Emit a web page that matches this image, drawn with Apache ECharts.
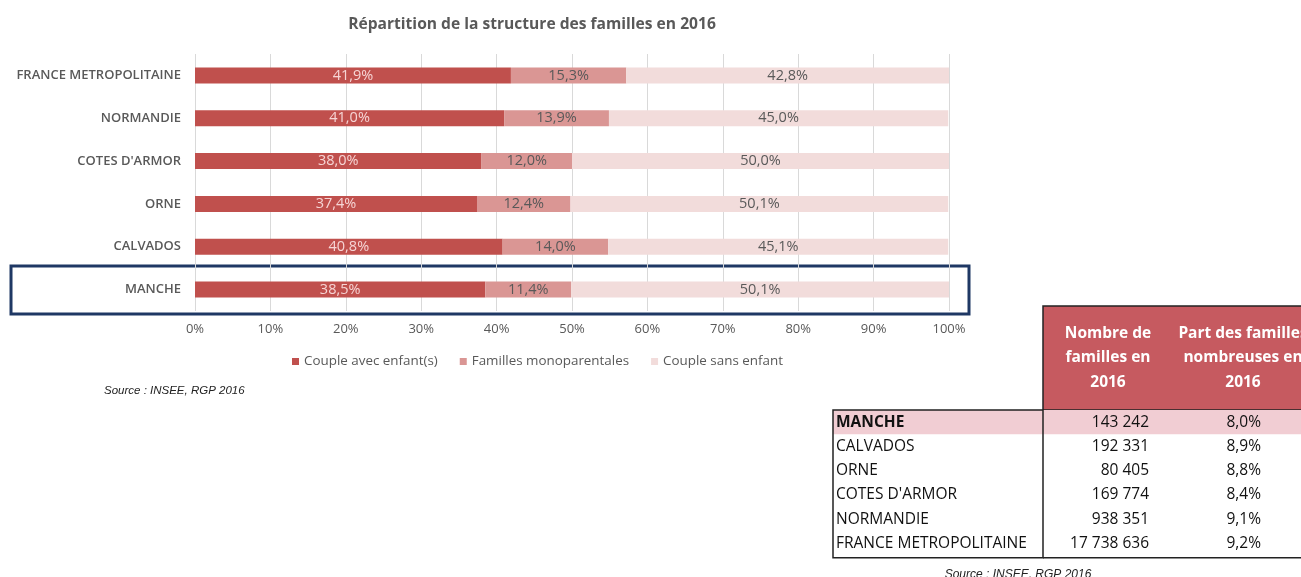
<!DOCTYPE html>
<html><head><meta charset="utf-8">
<script src="https://cdn.jsdelivr.net/npm/echarts@6/dist/echarts.min.js"></script>
<style>html,body{margin:0;padding:0;background:#fff;}#c{width:1301px;height:577px;}</style>
</head><body><div id="c"></div>
<script>
const categories = ["FRANCE METROPOLITAINE","NORMANDIE","COTES D'ARMOR","ORNE","CALVADOS","MANCHE"];
const coupleAvecEnfants = [41.9, 41.0, 38.0, 37.4, 40.8, 38.5];
const famillesMono = [15.3, 13.9, 12.0, 12.4, 14.0, 11.4];
const coupleSansEnfant = [42.8, 45.0, 50.0, 50.1, 45.1, 50.1];
const xTicks = [0,10,20,30,40,50,60,70,80,90,100];

const tableRows = ["MANCHE","CALVADOS","ORNE","COTES D'ARMOR","NORMANDIE","FRANCE METROPOLITAINE"];
const nbFamilles = ["143 242","192 331","80 405","169 774","938 351","17 738 636"];
const partNombreuses = ["8,0%","8,9%","8,8%","8,4%","9,1%","9,2%"];
const headerCol2 = "Nombre de\nfamilles en\n2016";
const headerCol3 = "Part des familles\nnombreuses en\n2016";

const font = "'Open Sans', Lato, sans-serif";
const fmt = v => v.toFixed(1).replace('.', ',') + '%';

// table graphics
const g = [];
const tx0 = 833, tx1 = 1043, tRight = 1301;
const headTop = 306, rowTop = 410, rowH = 24.3;
g.push({type:'rect', shape:{x:tx1, y:headTop, width:tRight-tx1+5, height:rowTop-headTop}, style:{fill:'#C65A60', stroke:'#222', lineWidth:1.5}});
g.push({type:'rect', shape:{x:tx0, y:rowTop, width:tRight-tx0+5, height:rowH}, style:{fill:'#F1CDD3'}});
g.push({type:'text', x:1108, y:headTop+52, style:{text:headerCol2, fill:'#fff', font:"bold 15.5px "+font, align:'center', verticalAlign:'middle', lineHeight:24.5}});
g.push({type:'text', x:1243, y:headTop+52, style:{text:headerCol3, fill:'#fff', font:"bold 15.5px "+font, align:'center', verticalAlign:'middle', lineHeight:24.5}});
tableRows.forEach((r,i)=>{
  const yc = rowTop + rowH*i + rowH/2;
  g.push({type:'text', x:tx0+3, y:yc, style:{text:r, fill:'#111', font:(i===0?'bold ':'')+"15.5px "+font, align:'left', verticalAlign:'middle'}});
  g.push({type:'text', x:1149, y:yc, style:{text:nbFamilles[i], fill:'#111', font:"15.5px "+font, align:'right', verticalAlign:'middle'}});
  g.push({type:'text', x:1261, y:yc, style:{text:partNombreuses[i], fill:'#111', font:"15.5px "+font, align:'right', verticalAlign:'middle'}});
});
const tBottom = rowTop + rowH*6 + 2;
g.push({type:'rect', shape:{x:tx0, y:rowTop, width:tx1-tx0, height:tBottom-rowTop}, style:{fill:'none', stroke:'#222', lineWidth:1.5}});
g.push({type:'line', shape:{x1:tx1, y1:tBottom, x2:tRight, y2:tBottom}, style:{stroke:'#222', lineWidth:1.5}});
g.push({type:'text', x:1018, y:575, style:{text:'Source : INSEE, RGP 2016', fill:'#222', font:"italic 12px 'Liberation Sans', Arial, sans-serif", align:'center', verticalAlign:'middle'}});
g.push({type:'text', x:104, y:391, style:{text:'Source : INSEE, RGP 2016', fill:'#222', font:"italic 11.5px 'Liberation Sans', Arial, sans-serif", align:'left', verticalAlign:'middle'}});
// highlight frame around MANCHE
g.push({type:'rect', shape:{x:11, y:266, width:958, height:48}, style:{fill:'none', stroke:'#1F3864', lineWidth:3}});

const labelDark = {show:true, position:'inside', color:'#F6D5D5', fontFamily:font, fontSize:14.5, formatter:p=>fmt(p.value)};
const labelLight = {show:true, position:'inside', color:'#595959', fontFamily:font, fontSize:14.5, formatter:p=>fmt(p.value)};

const option = {
  backgroundColor:'#fff',
  animation:false,
  title:{text:'Répartition de la structure des familles en 2016', left:527, top:12, textAlign:'center',
    textStyle:{fontFamily:font, fontSize:15.6, fontWeight:'bold', color:'#595959'}},
  legend:{top:350, left:287, itemWidth:7, itemHeight:7, itemGap:22, icon:'rect',
    textStyle:{fontFamily:font, fontSize:13.4, color:'#595959'},
    data:['Couple avec enfant(s)','Familles monoparentales','Couple sans enfant']},
  grid:{left:195, right:352, top:54, bottom:266, containLabel:false},
  xAxis:{type:'value', min:0, max:100, interval:10,
    axisLabel:{formatter:v=>v+'%', color:'#595959', fontFamily:font, fontSize:13, margin:12},
    axisLine:{show:false}, axisTick:{show:false},
    splitLine:{show:true, lineStyle:{color:'#D9D9D9', width:1}}},
  yAxis:{type:'category', data:categories, inverse:true,
    axisLabel:{color:'#595959', fontFamily:font, fontSize:13, fontWeight:600, margin:14},
    axisLine:{show:false}, axisTick:{show:false}},
  series:[
    {name:'Couple avec enfant(s)', type:'bar', stack:'s', data:coupleAvecEnfants, barWidth:16, itemStyle:{color:'#C0504D'}, label:labelDark},
    {name:'Familles monoparentales', type:'bar', stack:'s', data:famillesMono, barWidth:16, itemStyle:{color:'#DA9694'}, label:labelLight},
    {name:'Couple sans enfant', type:'bar', stack:'s', data:coupleSansEnfant, barWidth:16, itemStyle:{color:'#F2DCDB'}, label:labelLight}
  ],
  graphic:g
};
echarts.init(document.getElementById('c')).setOption(option);
</script></body></html>
